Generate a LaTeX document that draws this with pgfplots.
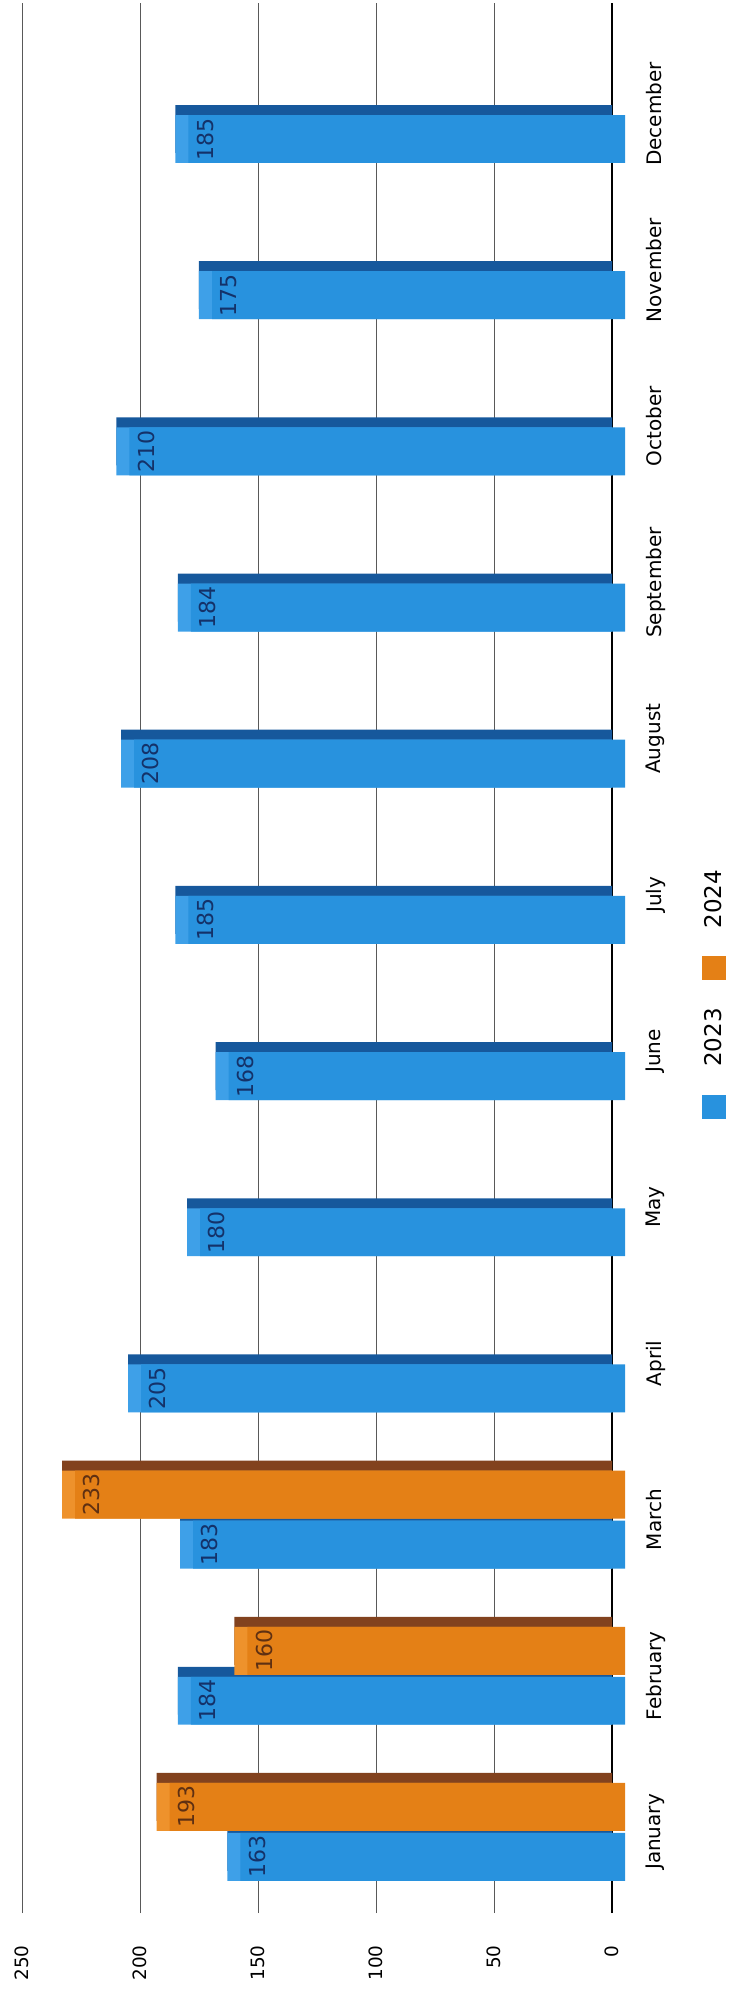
\documentclass[border=0pt]{standalone}
\usepackage{graphicx}
\usepackage{fontspec}
\setmainfont{DejaVu Sans}
\usepackage{pgfplots}
\pgfplotsset{compat=1.18}

\definecolor{blueface}{RGB}{40,146,222}
\definecolor{blueside}{RGB}{22,88,156}
\definecolor{bluetop}{RGB}{62,160,232}
\definecolor{bluetext}{RGB}{20,50,105}
\definecolor{orangeface}{RGB}{228,128,22}
\definecolor{orangeside}{RGB}{130,66,30}
\definecolor{orangetop}{RGB}{238,146,44}
\definecolor{orangetext}{RGB}{95,48,18}

\begin{document}
\rotatebox{90}{%
\begin{tikzpicture}
\begin{axis}[
  scale only axis,
  width=955pt, height=295pt,
  clip=false,
  ybar,
  bar width=0.307,
  xmin=0.481, xmax=12.711,
  ymin=0, ymax=250,
  xtick={1,...,12},
  xticklabels={January,February,March,April,May,June,July,August,September,October,November,December},
  ytick={0,50,...,250},
  /pgf/number format/assume math mode=true,
  major tick length=0pt,
  axis line style={draw=none},
  ymajorgrids,
  grid style={gray!70!black, line width=0.4pt},
  extra y ticks={0},
  extra y tick labels={},
  extra y tick style={grid style={black, line width=1pt}},
  xticklabel style={font=\fontsize{10}{12}\selectfont, anchor=north, inner sep=0pt, yshift=-17pt},
  yticklabel style={font=\fontsize{9.2}{11}\selectfont, anchor=east, inner sep=0pt, xshift=-16pt},
  legend columns=-1,
  legend style={at={(axis description cs:0.481,0)}, anchor=center, yshift=-51pt,
    draw=none, fill=none, font=\fontsize{11.5}{13}\selectfont,
    nodes={inner sep=0pt},
    /tikz/every odd column/.style={column sep=14pt},
    /tikz/every even column/.style={column sep=14pt}},
  legend image code/.code={\fill[#1] (0pt,0.7pt) rectangle (12pt,12.7pt);},
]
\coordinate (O) at (rel axis cs:0,0);

% 2023: side face, top face, front face
\addplot[forget plot, fill=blueside, draw=none, bar shift=-0.16, xshift=5pt] coordinates {
  (1,163) (2,184) (3,183) (4,205) (5,180) (6,168)
  (7,185) (8,208) (9,184) (10,210) (11,175) (12,185)};
\addplot[forget plot, fill=bluetop, draw=none, bar shift=-0.16] coordinates {
  (1,163) (2,184) (3,183) (4,205) (5,180) (6,168)
  (7,185) (8,208) (9,184) (10,210) (11,175) (12,185)};
\addplot[fill=blueface, draw=none, bar shift=-0.16, yshift=-6.5pt,
  nodes near coords,
  every node near coord/.append style={text=bluetext, font=\fontsize{11}{13}\selectfont, anchor=north, inner sep=0pt, yshift=-4pt}] coordinates {
  (1,163) (2,184) (3,183) (4,205) (5,180) (6,168)
  (7,185) (8,208) (9,184) (10,210) (11,175) (12,185)};
\addlegendentry{2023}

% 2024
\addplot[forget plot, fill=orangeside, draw=none, bar shift=0.16, xshift=5pt] coordinates {
  (1,193) (2,160) (3,233)};
\addplot[forget plot, fill=orangetop, draw=none, bar shift=0.16] coordinates {
  (1,193) (2,160) (3,233)};
\addplot[fill=orangeface, draw=none, bar shift=0.16, yshift=-6.5pt,
  nodes near coords,
  every node near coord/.append style={text=orangetext, font=\fontsize{11}{13}\selectfont, anchor=north, inner sep=0pt, yshift=-4pt}] coordinates {
  (1,193) (2,160) (3,233)};
\addlegendentry{2024}
\end{axis}
\pgfresetboundingbox
\path[use as bounding box] ([shift={(-41.5pt,-58pt)}]O) rectangle ([shift={(956.5pt,306pt)}]O);
\end{tikzpicture}}
\end{document}
